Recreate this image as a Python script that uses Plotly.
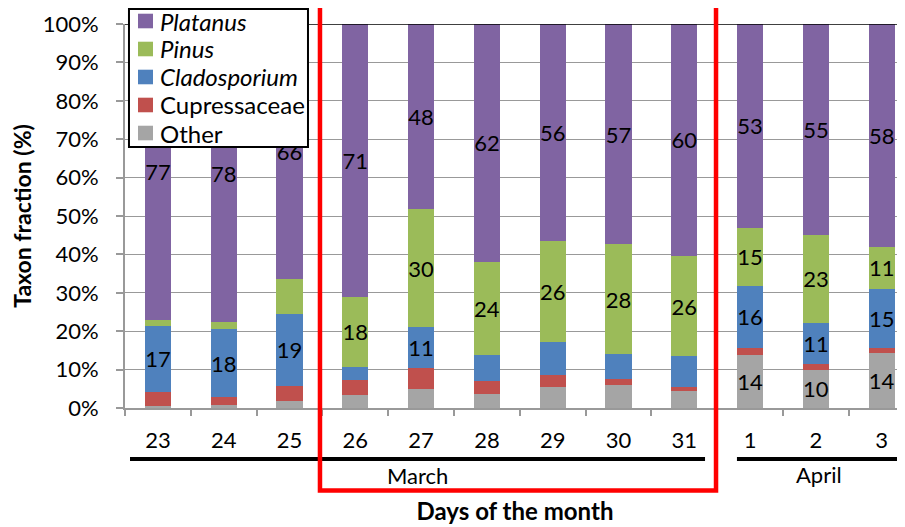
import plotly.graph_objects as go

days = ["23", "24", "25", "26", "27", "28", "29", "30", "31", "1", "2", "3"]

other = [0.4, 0.7, 1.7, 3.5, 5.0, 3.7, 5.4, 5.9, 4.3, 13.7, 10.0, 14.3]
cupressaceae = [3.8, 2.2, 4.1, 3.7, 5.3, 3.4, 3.2, 1.7, 1.2, 2.0, 1.4, 1.4]
cladosporium = [17.2, 17.6, 18.7, 3.6, 10.9, 6.7, 8.6, 6.5, 8.0, 16.0, 10.8, 15.3]
pinus = [1.6, 1.8, 9.2, 18.1, 30.5, 24.3, 26.4, 28.5, 26.1, 15.3, 22.8, 11.0]
platanus = [77.0, 77.7, 66.3, 71.1, 48.3, 61.9, 56.4, 57.4, 60.4, 53.0, 55.0, 58.0]

platanus_labels = ["77", "78", "66", "71", "48", "62", "56", "57", "60", "53", "55", "58"]
pinus_labels = ["", "", "", "18", "30", "24", "26", "28", "26", "15", "23", "11"]
clado_labels = ["17", "18", "19", "", "11", "", "", "", "", "16", "11", "15"]
cupr_labels = [""] * 12
other_labels = ["", "", "", "", "", "", "", "", "", "14", "10", "14"]

FONT = "Lato"
FS = 22
series = [
    ("Other", other, other_labels, "#A5A5A5"),
    ("Cupressaceae", cupressaceae, cupr_labels, "#C0504D"),
    ("<i>Cladosporium</i>", cladosporium, clado_labels, "#4F81BD"),
    ("<i>Pinus</i>", pinus, pinus_labels, "#9BBB59"),
    ("<i>Platanus</i>", platanus, platanus_labels, "#8064A2"),
]

fig = go.Figure()
for name, vals, labels, color in series:
    fig.add_trace(go.Bar(
        x=days, y=vals, name=name, text=labels,
        textposition="inside", insidetextanchor="middle", textangle=0,
        constraintext="none",
        textfont=dict(family=FONT, size=FS, color="black"),
        marker=dict(color=color, line=dict(width=0)),
        width=0.4, hoverinfo="skip", showlegend=False,
    ))

shapes = [
    dict(type="line", xref="x", yref="paper", x0=-0.424, x1=8.315, y0=-0.133, y1=-0.133,
         line=dict(color="black", width=4)),
    dict(type="line", xref="x", yref="paper", x0=8.80, x1=11.28, y0=-0.133, y1=-0.133,
         line=dict(color="black", width=4)),
    dict(type="line", xref="paper", yref="y", x0=0, x1=1, y0=100, y1=100,
         line=dict(color="black", width=1.5)),
    dict(type="rect", xref="x", yref="paper", x0=2.463, x1=8.482, y0=-0.215, y1=1.2,
         line=dict(color="#FF0000", width=4.5), layer="above"),
]
annotations = [
    dict(text="March", xref="x", yref="paper", x=3.94, y=-0.177, showarrow=False,
         font=dict(family=FONT, size=FS, color="black"), yanchor="middle"),
    dict(text="April", xref="x", yref="paper", x=10.04, y=-0.172, showarrow=False,
         font=dict(family=FONT, size=FS, color="black"), yanchor="middle"),
]

# legend box (drawn as shapes + text, entries top-down: Platanus ... Other)
shapes.append(dict(type="rect", xref="paper", yref="paper", x0=0.0051, x1=0.2346,
                   y0=0.6797, y1=1.0390, fillcolor="white",
                   line=dict(color="black", width=2), layer="above"))
leg_y = [1.0078, 0.9349, 0.8620, 0.7891, 0.7161]
for (name, _, _, color), yc in zip(reversed(series), leg_y):
    shapes.append(dict(type="rect", xref="paper", yref="paper", x0=0.0167, x1=0.0359,
                       y0=yc - 0.019, y1=yc + 0.019, fillcolor=color,
                       line=dict(width=0), layer="above"))
    annotations.append(dict(text=name, xref="paper", yref="paper", x=0.0423, y=yc,
                            xanchor="left", yanchor="middle", showarrow=False,
                            font=dict(family=FONT, size=24, color="black")))

fig.update_layout(
    width=905, height=527,
    margin=dict(l=117, r=8, t=16, b=127, autoexpand=False),
    barmode="stack",
    showlegend=False,
    plot_bgcolor="white", paper_bgcolor="white",
    font=dict(family=FONT, color="black"),
    shapes=shapes, annotations=annotations,
    xaxis=dict(
        type="category", range=[-0.5, 11.354],
        tickson="boundaries", ticks="outside", ticklen=6, tickcolor="#999999", tickwidth=1.5,
        showline=True, linecolor="#999999", linewidth=2,
        showgrid=False,
        tickfont=dict(family=FONT, size=FS, color="black"),
        ticklabelstandoff=12,
        title=dict(text="<b>Days of the month</b>", font=dict(family=FONT, size=24, color="black"),
                   standoff=51),
        automargin=False,
    ),
    yaxis=dict(
        range=[0, 100], dtick=10, ticksuffix="%",
        ticks="outside", ticklen=7, tickcolor="#999999", tickwidth=1.5,
        showline=True, linecolor="#999999", linewidth=2,
        showgrid=True, gridcolor="#999999", gridwidth=1.3,
        zeroline=False,
        tickfont=dict(family=FONT, size=FS, color="black"),
        ticklabelstandoff=13,
        title=dict(text="<b>Taxon fraction (%)</b>", font=dict(family=FONT, size=23, color="black"),
                   standoff=5),
        automargin=False,
    ),
)

fig.write_html("out.html")
